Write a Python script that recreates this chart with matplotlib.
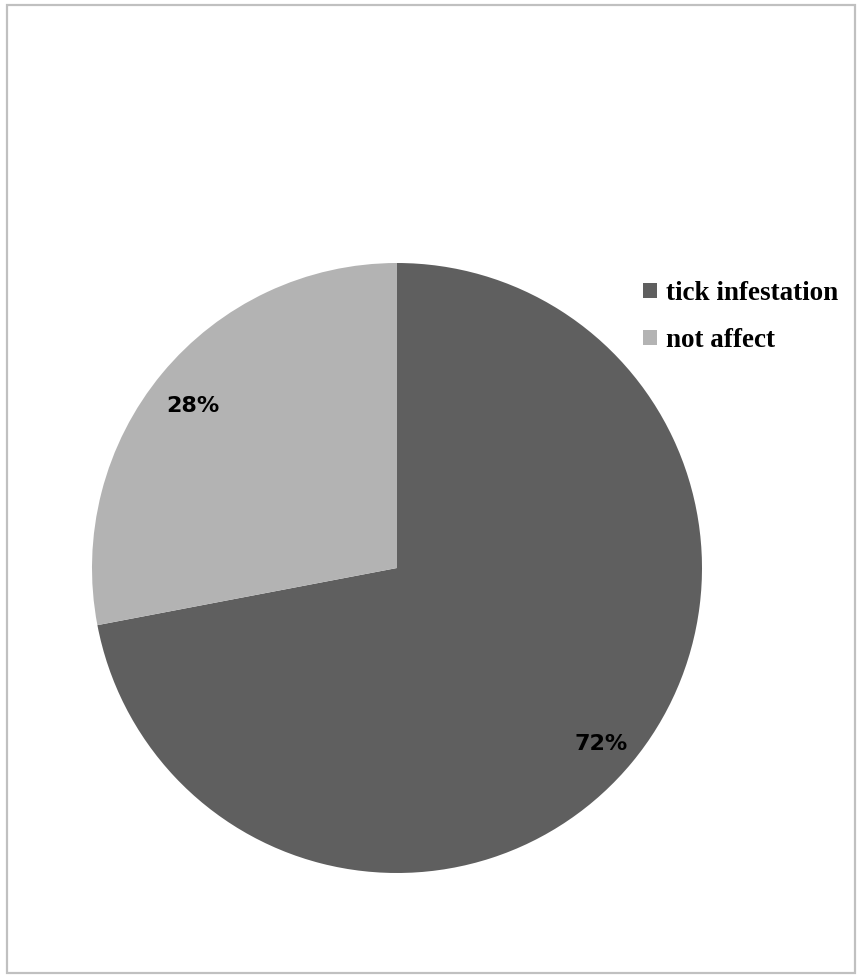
import matplotlib.pyplot as plt
from matplotlib.patches import Rectangle

categories = ["tick infestation", "not affect"]
shares = [72, 28]
colors = ["#5f5f5f", "#b3b3b3"]

W, H = 859, 976
fig = plt.figure(figsize=(W / 100, H / 100), dpi=100)

# outer chart frame
fig.patches.append(Rectangle((7 / W, 3 / H), 848 / W, 968 / H, transform=fig.transFigure,
                             fill=False, edgecolor="#c0c0c0", linewidth=1.6))

cx, cy, r = 397, 568, 305
ax = fig.add_axes([(cx - r) / W, (H - cy - r) / H, 2 * r / W, 2 * r / H])
wedges, texts, autotexts = ax.pie(
    shares, colors=colors, startangle=90, counterclock=False,
    autopct="%d%%", pctdistance=0.87, radius=1.0,
    textprops=dict(fontsize=16, fontweight="bold", color="black", family="DejaVu Sans"),
)
for t in autotexts:
    x, y = t.get_position()
    t.set_position((x, y - 0.022))
ax.set_xlim(-1, 1)
ax.set_ylim(-1, 1)
ax.set_aspect("equal")

fig.legend(wedges, categories, loc="upper left", bbox_to_anchor=(643 / W, 1 - 281 / H),
           frameon=False, handlelength=0.5, handleheight=0.5, handletextpad=0.35,
           labelspacing=0.82, borderpad=0, borderaxespad=0,
           prop=dict(family="Liberation Serif", weight="bold", size=19.5))

fig.savefig("out.png", dpi=100)
